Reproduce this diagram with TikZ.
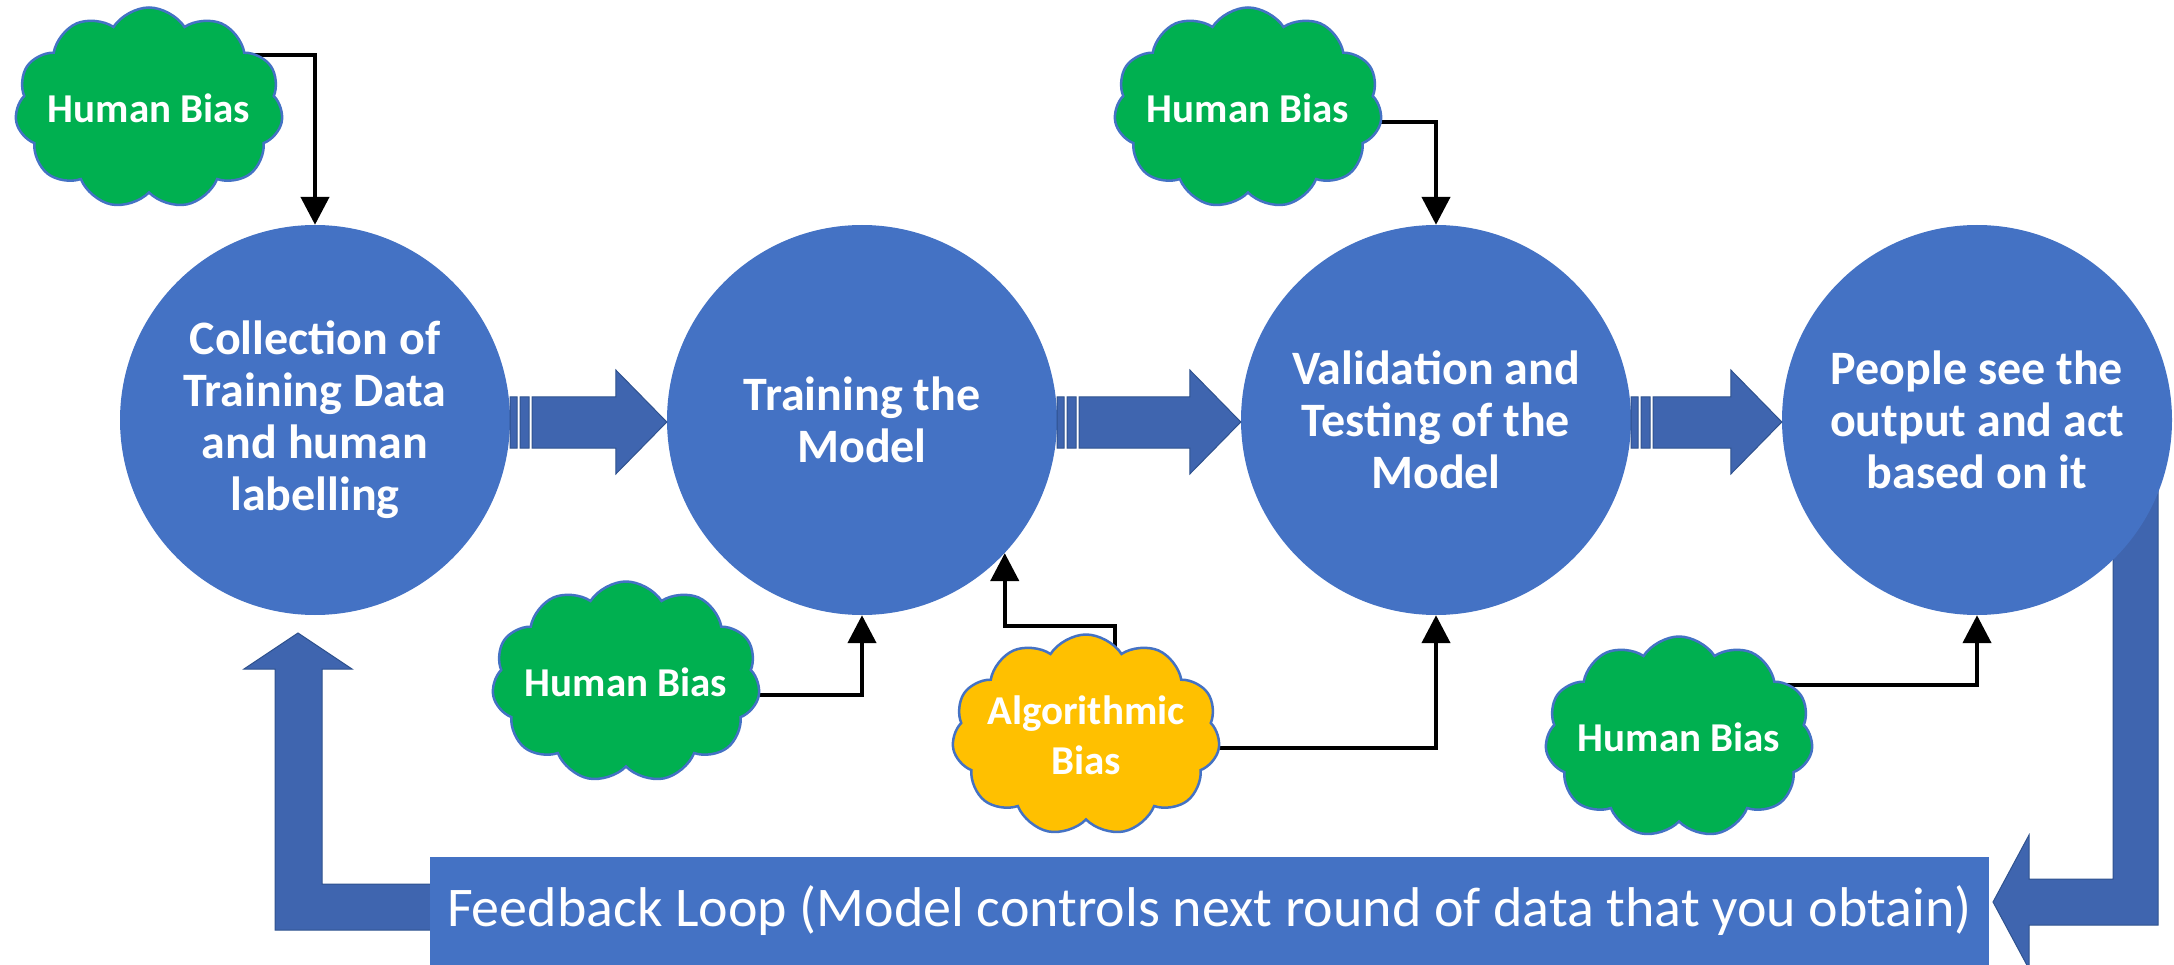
\documentclass[tikz,border=0pt]{standalone}
\usepackage{fontspec}
\setmainfont{Carlito}
\usetikzlibrary{shapes.symbols,arrows.meta,calc}
\definecolor{circblue}{HTML}{4472C4}
\definecolor{arrblue}{HTML}{3F65AF}
\definecolor{arrline}{HTML}{2F528F}
\definecolor{cloudgreen}{HTML}{00B050}
\definecolor{cloudyellow}{HTML}{FFC000}
\pgfdeclarelayer{bg}
\pgfsetlayers{bg,main}
\tikzset{
 stage/.style={circle, fill=circblue, minimum size=390pt, inner sep=0pt, align=center, text=white, font=\bfseries\fontsize{48}{52}\selectfont},
 blockarrow/.style={fill=arrblue, draw=arrline, line width=1pt, line join=miter},
 biascloud/.style={cloud, cloud puffs=11, cloud puff arc=115, cloud ignores aspect, minimum width=268pt, minimum height=201pt, inner sep=0pt, draw=circblue, line width=2.5pt},
 cloudtext/.style={text=white, align=center, inner sep=0pt, font=\bfseries\fontsize{41}{50}\selectfont},
 conn/.style={draw=black, line width=4.5pt, -{Triangle[length=28pt,width=28pt]}},
 feedback/.style={rectangle, fill=circblue, minimum width=1559pt, minimum height=108pt, inner sep=0pt, text=white, font=\fontsize{56}{60}\selectfont}
}
\newcommand{\stripedarrow}[2]{%
 \path[blockarrow] let \p1=(#1.east), \p2=(#2.west) in
  (\x1,\y1+23pt) rectangle (\x1+7pt,\y1-28pt)
  (\x1+10pt,\y1+23pt) rectangle (\x1+19pt,\y1-28pt)
  (\x1+22pt,\y1+23pt) -- (\x2-51pt,\y1+23pt) -- (\x2-51pt,\y1+50pt) -- (\x2,\y1-2pt)
  -- (\x2-51pt,\y1-54pt) -- (\x2-51pt,\y1-28pt) -- (\x1+22pt,\y1-28pt) -- cycle;}
\begin{document}
\begin{tikzpicture}[x=1pt,y=-1pt]
\useasboundingbox (0,0) rectangle (2174,965);

% feedback bent arrows (behind box and circles)
\path[blockarrow] (445,884) -- (322,884) -- (322,669) -- (352,669) -- (298,633)
  -- (244,669) -- (275,669) -- (275,930) -- (445,930) -- cycle;
\path[blockarrow] (2113,470) -- (2158,470) -- (2158,925) -- (2029,925) -- (2029,969)
  -- (1993,902) -- (2029,835) -- (2029,879) -- (2113,879) -- cycle;

\node[feedback] (fb) at (1209.5,911) {Feedback Loop (Model controls next round of data that you obtain)};

% stages
\node[stage] (C1) at (315,420) {Collection of\\Training Data\\and human\\labelling};
\node[stage] (C2) at (862,420) {Training the\\Model};
\node[stage] (C3) at (1436,420) {Validation and\\Testing of the\\Model};
\node[stage] (C4) at (1977,420) {People see the\\output and act\\based on it};

\stripedarrow{C1}{C2}
\stripedarrow{C2}{C3}
\stripedarrow{C3}{C4}

% clouds
\node[biascloud, fill=cloudgreen] (hb1) at (149,108) {};
\node[cloudtext] (hb1t) at (hb1) {Human Bias};
\node[biascloud, fill=cloudgreen] (hb2) at (1248,108) {};
\node[cloudtext] (hb2t) at (hb2) {Human Bias};
\node[biascloud, fill=cloudgreen] (hb3) at (626,682) {};
\node[cloudtext] (hb3t) at (hb3) {Human Bias};
\node[biascloud, fill=cloudyellow] (alg) at (1086,735) {};
\node[cloudtext] (algt) at (alg) {Algorithmic\\Bias};
\node[biascloud, fill=cloudgreen] (hb5) at (1679,737) {};
\node[cloudtext] (hb5t) at (hb5) {Human Bias};

% connectors
\begin{pgfonlayer}{bg}
\draw[conn] ($(hb1)+(60,-53)$) -| (C1.north);
\draw[conn] ($(hb2)+(60,14)$) -| (C3.north);
\draw[conn] ($(hb3)+(60,13)$) -| (C2.south);
\draw[conn] ($(alg)+(29,-60)$) -- ($(alg)+(29,-109)$) -| (C2.-43.7);
\draw[conn] ($(alg)+(60,13)$) -| (C3.south);
\draw[conn] ($(hb5)+(60,-52)$) -| (C4.south);
\end{pgfonlayer}
\end{tikzpicture}
\end{document}
